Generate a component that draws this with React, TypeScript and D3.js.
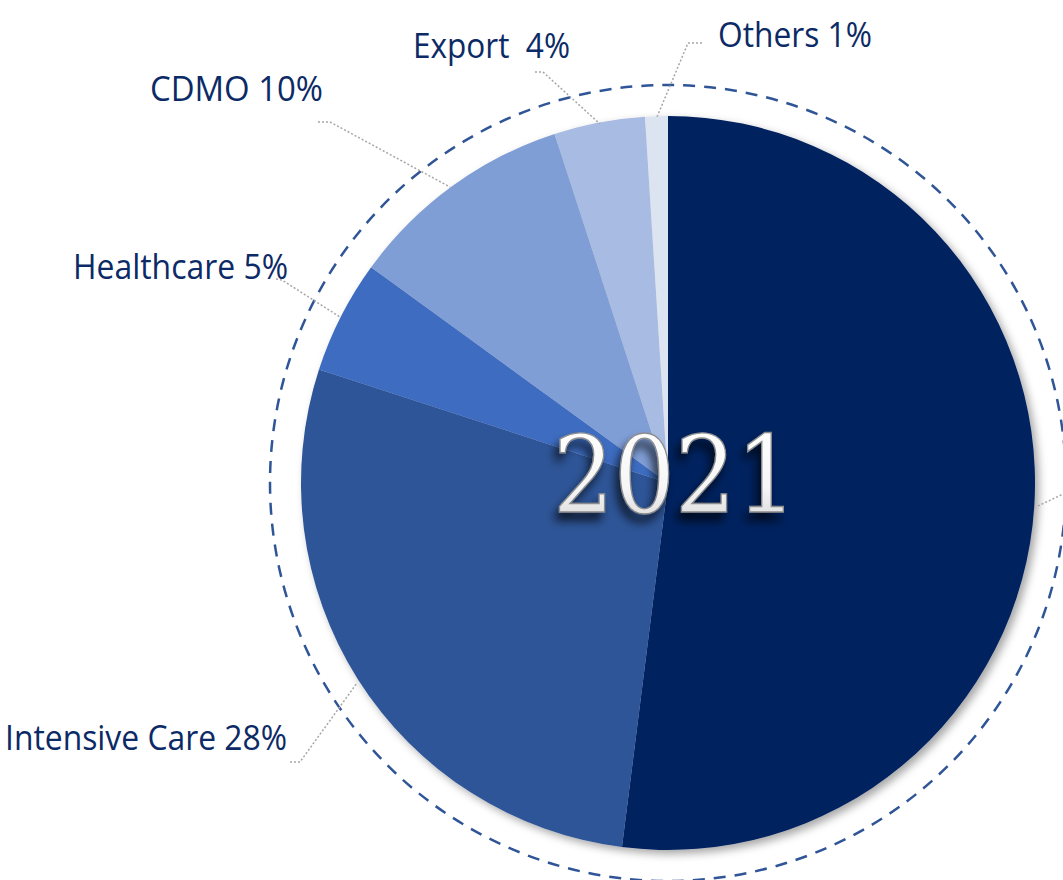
import React from "react";
import * as d3 from "d3";

const categories = ["Main", "Intensive Care", "Healthcare", "CDMO", "Export", "Others"];
const values = [52, 28, 5, 10, 4, 1];
const colors = ["#02205F", "#2F5597", "#3E6CC0", "#7F9ED6", "#A8BBE2", "#DCE4F2"];
const labelTexts = ["", "Intensive Care 28%", "Healthcare 5%", "CDMO 10%", "Export  4%", "Others 1%"];
const yearLabel = "2021";

const W = 1063;
const H = 880;
const cx = 668;
const cy = 483;
const R = 367;
const RD = 398;

// label anchor points (text left, baseline), widths, and leader line polylines
const labelPos: [number, number][] = [
  [1100, 500],
  [5, 750],
  [73, 279],
  [150, 101],
  [413, 58],
  [718, 47],
];
const labelWidths = [0, 282, 215, 173, 157, 154];
const leaders: [number, number][][] = [
  [[1038, 506], [1063, 494]],
  [[290, 762], [300, 762], [357, 683]],
  [[276, 279], [282, 280], [340, 317]],
  [[318, 122], [330, 122], [450, 187]],
  [[535, 72], [543, 72], [600, 124]],
  [[702, 43], [688, 43], [657, 117]],
];

export default function App() {
  const pie = d3.pie<number>().sort(null).startAngle(0).endAngle(2 * Math.PI);
  const arcs = pie(values);
  const arc = d3.arc<d3.PieArcDatum<number>>().innerRadius(0).outerRadius(R);
  const line = d3.line();
  return (
    <svg width={W} height={H} style={{ position: "absolute", left: 0, top: 0 }}>
      <defs>
        <filter id="pieShadow" x="-20%" y="-20%" width="140%" height="140%">
          <feDropShadow dx="4" dy="4" stdDeviation="4" floodColor="#000" floodOpacity="0.35" />
        </filter>
        <linearGradient id="txtGrad" x1="0" y1="0" x2="0" y2="1">
          <stop offset="0%" stopColor="#ffffff" />
          <stop offset="60%" stopColor="#f6f6f6" />
          <stop offset="100%" stopColor="#d0d0d0" />
        </linearGradient>
        <filter id="txtShadow" x="-20%" y="-20%" width="140%" height="160%">
          <feGaussianBlur in="SourceAlpha" stdDeviation="5" />
          <feOffset dx="-4" dy="8" result="b" />
          <feComponentTransfer in="b" result="s">
            <feFuncA type="linear" slope="0.7" />
          </feComponentTransfer>
          <feMerge>
            <feMergeNode in="s" />
            <feMergeNode in="SourceGraphic" />
          </feMerge>
        </filter>
      </defs>
      <rect x={0} y={0} width={W} height={H} fill="#ffffff" />
      <g transform={`translate(${cx},${cy})`} filter="url(#pieShadow)">
        {arcs.map((a, i) => (
          <path key={categories[i]} d={arc(a) || ""} fill={colors[i]} />
        ))}
      </g>
      <circle cx={cx} cy={cy} r={RD} fill="none" stroke="#2F5597" strokeWidth={2.5} strokeDasharray="12 9" />
      {leaders.map((pts, i) => (
        <path key={"l" + i} d={line(pts) || ""} fill="none" stroke="#A6A6A6" strokeWidth={1.5} strokeDasharray="2 2" />
      ))}
      {labelTexts.map((t, i) =>
        t ? (
          <text
            key={"t" + i}
            x={labelPos[i][0]}
            y={labelPos[i][1]}
            fontFamily="'Open Sans', 'Noto Sans', sans-serif"
            fontSize={34}
            textLength={labelWidths[i]}
            lengthAdjust="spacingAndGlyphs"
            fill="#0B2A66"
            style={{ whiteSpace: "pre" }}
          >
            {t}
          </text>
        ) : null
      )}
      <text
        x={553}
        y={512}
        fontFamily="'DejaVu Serif', serif"
        fontSize={106}
        textLength={244}
        lengthAdjust="spacingAndGlyphs"
        fill="url(#txtGrad)"
        stroke="#8c8c8c"
        strokeWidth={1.4}
        filter="url(#txtShadow)"
      >
        {yearLabel}
      </text>
    </svg>
  );
}
